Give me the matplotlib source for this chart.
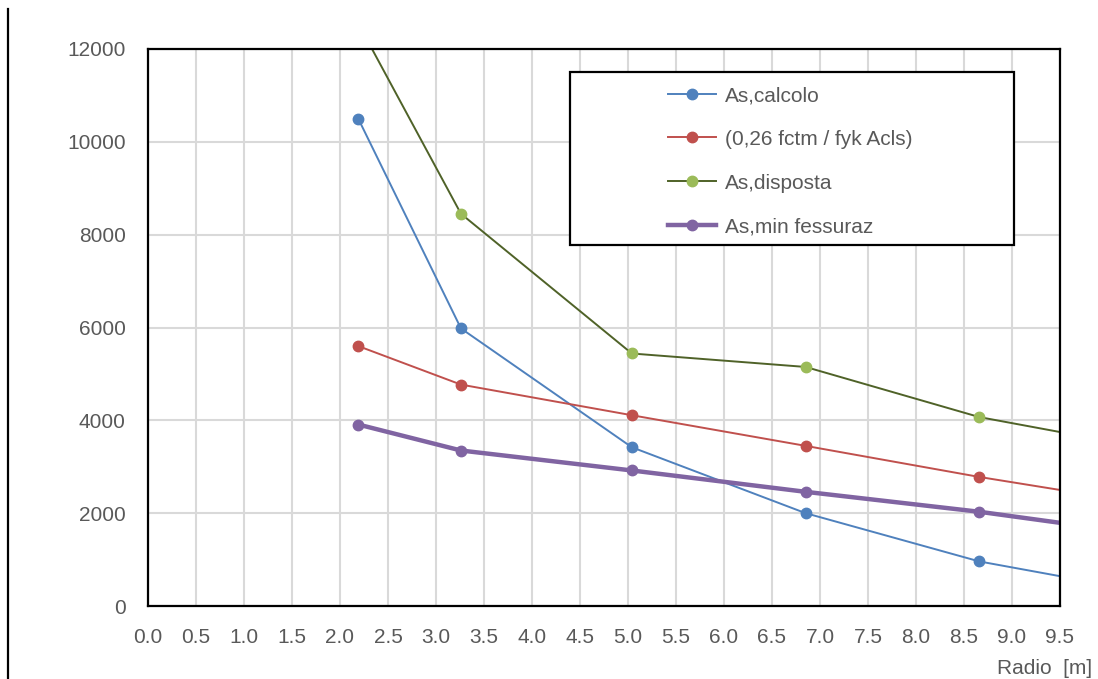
import matplotlib

matplotlib.use("Agg")
import matplotlib.pyplot as plt
from matplotlib.lines import Line2D
from matplotlib.patches import Rectangle

# valori
radio = [2.19, 3.26, 5.04, 6.85, 8.66, 10.46]
as_calcolo = [10500, 5980, 3420, 2000, 960, 280]
as_026 = [5600, 4770, 4110, 3450, 2780, 2180]
as_disposta = [12550, 8450, 5440, 5150, 4070, 3380]
as_min_fess = [3910, 3350, 2920, 2460, 2030, 1520]

x_ticks = [i * 0.5 for i in range(20)]
y_ticks = [0, 2000, 4000, 6000, 8000, 10000, 12000]

plt.rcParams["font.family"] = ["Liberation Sans", "DejaVu Sans"]
grey = "#595959"
fs = 15

fig = plt.figure(figsize=(10.98, 6.79), dpi=100)
ax = fig.add_axes([148 / 1098, 1 - 606 / 679, (1060 - 148) / 1098, (606 - 49) / 679])

ax.plot(radio, as_calcolo, color="#4F81BD", lw=1.4, marker="o", ms=7.5, label="As,calcolo")
ax.plot(radio, as_026, color="#C0504D", lw=1.4, marker="o", ms=7.5, label="(0,26 fctm / fyk Acls)")
ax.plot(radio, as_disposta, color="#4F6228", lw=1.4, marker="o", ms=7.5,
        mfc="#9BBB59", mec="#9BBB59", label="As,disposta")
ax.plot(radio, as_min_fess, color="#8064A2", lw=3.2, marker="o", ms=7.5, label="As,min fessuraz")

ax.set_xlim(0, 9.5)
ax.set_ylim(0, 12000)
ax.set_xticks(x_ticks)
ax.set_xticklabels([f"{v:.1f}" for v in x_ticks])
ax.set_yticks(y_ticks)
ax.set_yticklabels([str(v) for v in y_ticks])
ax.tick_params(length=0, labelsize=fs, labelcolor=grey)
ax.tick_params(axis="y", pad=16)
ax.tick_params(axis="x", pad=16)
ax.grid(True, color="#D9D9D9", lw=1.5)
ax.set_axisbelow(True)
for spine in ax.spines.values():
    spine.set_color("black")
    spine.set_linewidth(1.6)

# riquadro legenda
box = Rectangle((570 / 1098, 1 - 245 / 679), (1014 - 570) / 1098, (245 - 72) / 679,
                transform=fig.transFigure, facecolor="white", edgecolor="black",
                lw=1.6, zorder=5, clip_on=False)
ax.add_patch(box)
leg = ax.legend(loc="upper left", bbox_to_anchor=(668 / 1098, 1 - 86 / 679),
                bbox_transform=fig.transFigure, frameon=False, fontsize=fs,
                handlelength=2.3, handletextpad=0.45, labelspacing=1.19,
                borderpad=0, borderaxespad=0)
leg.set_zorder(6)
for text in leg.get_texts():
    text.set_color(grey)

fig.add_artist(Line2D([8 / 1098, 8 / 1098], [0, 1 - 9 / 679], transform=fig.transFigure,
                      color="black", lw=1.6))
fig.text(997 / 1098, 1 / 679, "Radio  [m]", ha="left", va="bottom",
         fontsize=fs, color=grey)

fig.savefig("out.png", dpi=100)
